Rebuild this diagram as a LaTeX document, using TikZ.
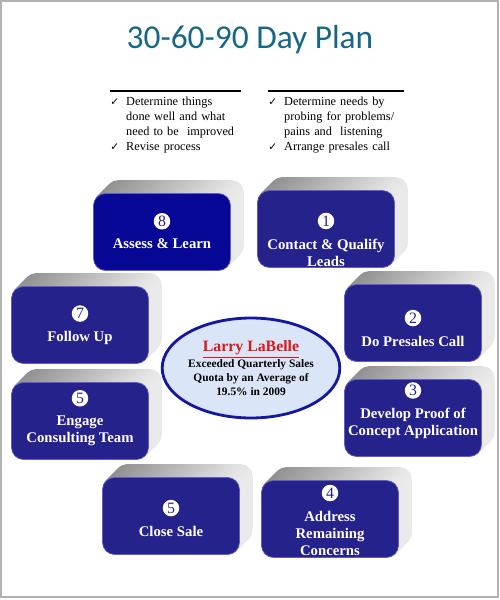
\documentclass[tikz,border=0pt]{standalone}
\usepackage{fontspec}
\setmainfont{Liberation Serif}
\newfontfamily\titlefont{Carlito}
\newfontfamily\symfont{DejaVu Sans}
\usetikzlibrary{positioning, shapes.geometric, backgrounds}

\definecolor{titleteal}{RGB}{24,102,134}
\definecolor{cardblue}{RGB}{38,34,140}
\definecolor{cardbright}{RGB}{8,8,150}
\definecolor{cardrim}{RGB}{95,95,195}
\definecolor{ovalfill}{RGB}{218,230,248}
\definecolor{ovalline}{RGB}{22,22,165}
\definecolor{namered}{RGB}{222,24,24}

\newcommand{\chk}{{\symfont\fontsize{6}{6}\selectfont ✓}}

\begin{document}
\begin{tikzpicture}[
		x=0.02cm, y=-0.02cm,
		% Front face of a step card (fixed size so all cards match)
		card/.style={
				rectangle, rounded corners=0.24cm, draw=cardrim, thin,
				fill=#1, minimum width=2.74cm, minimum height=1.54cm
			},
		% Bold white caption inside a card
		cardtxt/.style={
				text=white, font=\fontsize{8.4}{9.7}\selectfont\bfseries,
				align=center, inner sep=0pt
			},
		% White disc holding the step number
		numdot/.style={
				circle, fill=white, text=cardblue, inner sep=0pt,
				minimum size=0.33cm, font=\fontsize{9}{9}\selectfont,
				label distance=5pt
			},
		% Check lists at the top
		bullets/.style={
				anchor=north west, inner xsep=0pt, inner ysep=2pt,
				font=\fontsize{7}{8.5}\selectfont, align=left
			},
		rule/.style={draw=black, line width=0.6pt}
	]

	\useasboundingbox (0,0) rectangle (500,600);
	\draw[black!30, line width=0.03cm] (1,1) rectangle (498,597);

	% ==========================================
	% 1. TITLE AND CHECK LISTS
	% ==========================================

	\node[font=\titlefont\fontsize{19}{23}\selectfont, text=titleteal]
	(title) at (250,40) {30-60-90 Day Plan};

	\node[bullets, text width=2.6cm] (donelist) at (110,91) {%
		\begin{tabular}{@{}l@{\hspace{4pt}}l@{}}
			\chk & Determine things        \\
			     & done well and what      \\
			     & need to be\ \ improved  \\
			\chk & Revise process
		\end{tabular}};

	\node[bullets, text width=2.7cm] (needlist) at (268,91) {%
		\begin{tabular}{@{}l@{\hspace{4pt}}l@{}}
			\chk & Determine needs by      \\
			     & probing for problems/   \\
			     & pains and\ \ listening  \\
			\chk & Arrange presales call
		\end{tabular}};

	\draw[rule] (donelist.north west) -- (donelist.north east);
	\draw[rule] (needlist.north west) -- (needlist.north east);

	% ==========================================
	% 2. STEP CARDS (front faces)
	% ==========================================

	\node[card=cardbright] (assess) at (162,232) {};
	\node[card=cardblue] (contact) at (326,229) {};
	\node[card=cardblue] (followup) at (80,325) {};
	\node[card=cardblue] (engage) at (80,421) {};
	\node[card=cardblue] (presales) at (413,323) {};
	\node[card=cardblue] (proof) at (413,418) {};
	\node[card=cardblue] (closesale) at (171,516) {};
	\node[card=cardblue] (address) at (330,519) {};

	% Captions, number disc sits on top of each caption
	\node[cardtxt, label={[numdot]above:8}] (assesslbl) at (162,244) {Assess \& Learn};
	\node[cardtxt, label={[numdot]above:1}] (contactlbl) at (326,252.5) {Contact \& Qualify\\Leads};
	\node[cardtxt, label={[numdot]above:7}] (followuplbl) at (80,338) {Follow Up};
	\node[cardtxt, label={[numdot]above:5}] (engagelbl) at (80,431) {Engage\\Consulting Team};
	\node[cardtxt, label={[numdot]above:2}] (presaleslbl) at (413,341) {Do Presales Call};
	\node[cardtxt, label={[numdot]above:3}] (prooflbl) at (413,423.5) {Develop Proof of\\Concept Application};
	\node[cardtxt, label={[numdot]above:5}] (closesalelbl) at (171,531) {Close Sale};
	\node[cardtxt, label={[numdot]above:4}] (addresslbl) at (330,533) {Address\\Remaining\\Concerns};

	% Grey depth behind every card
	\begin{pgfonlayer}{background}
		\foreach \c in {assess, contact, followup, engage, presales, proof, closesale, address}
		\foreach \k in {13,12.5,...,0.5}
		\shade[left color=black!45, right color=black!8, rounded corners=0.24cm]
		([shift={(\k,-\k)}]\c.south west) rectangle ([shift={(\k,-\k)}]\c.north east);
	\end{pgfonlayer}

	% ==========================================
	% 3. CENTRE OVAL
	% ==========================================

	\node[ellipse, draw=ovalline, line width=1.6pt, fill=ovalfill,
		minimum width=3.12cm, minimum height=2cm, inner sep=0pt, align=center,
		font=\fontsize{6.5}{8}\selectfont\bfseries]
	(quota) at (251,368) {%
		{\fontsize{9}{11}\selectfont\color{namered}\underline{Larry LaBelle}}\\
		Exceeded Quarterly Sales\\
		Quota by an Average of\\
		19.5\% in 2009};

\end{tikzpicture}
\end{document}
